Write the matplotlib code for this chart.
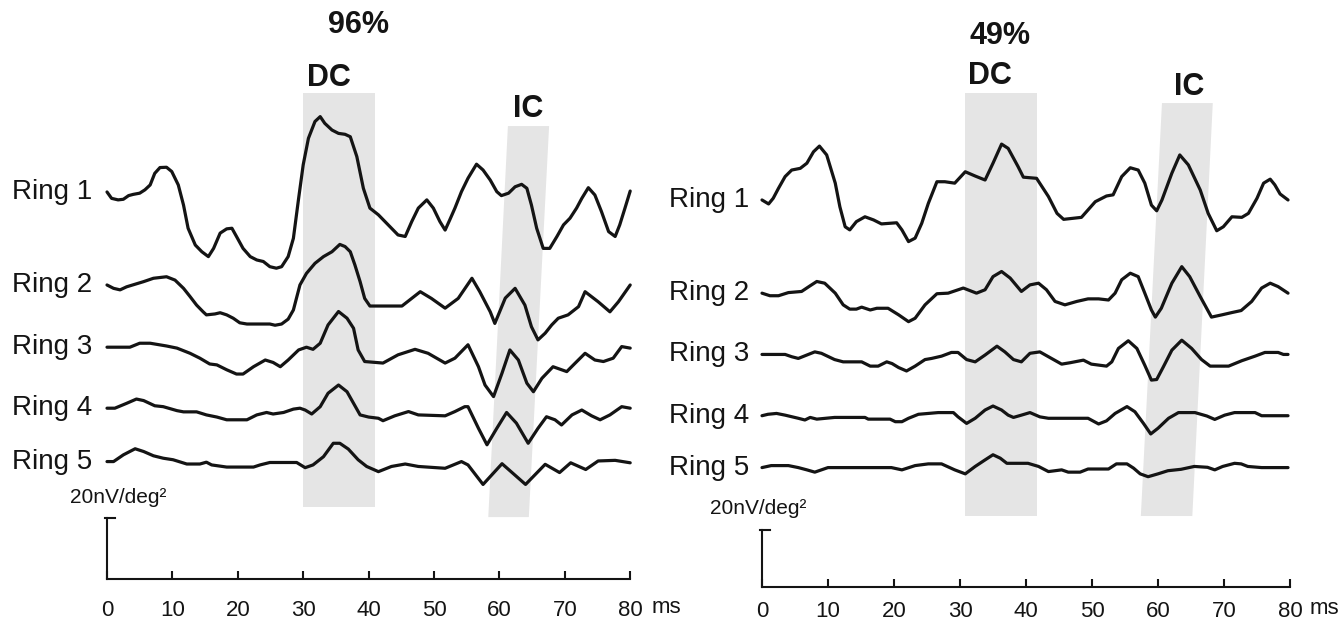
"""Multifocal ERG ring responses, two conditions (96% and 49%), saved as out.png."""
import numpy as np
import matplotlib
matplotlib.use("Agg")
import matplotlib.pyplot as plt
from matplotlib.patches import Polygon

plt.rcParams["font.family"] = ["Liberation Sans", "DejaVu Sans"]

# traces: (time ms, amplitude nV/deg^2 relative to the ring's baseline)
L_RING1 = [(0, 0), (0.7, -2.1), (1.7, -2.6), (2.5, -2.4), (3.3, -1.2), (4.0, -0.8), (5.0, -0.4),
           (5.8, 0.7), (6.6, 2.3), (7.3, 6.1), (8.1, 8.0), (9.1, 8.1), (9.9, 6.7), (10.9, 2.3),
           (11.7, -4.3), (12.4, -11.9), (13.5, -17.4), (14.5, -19.6), (15.5, -21.2), (16.3, -18.5),
           (17.3, -13.5), (18.3, -12.1), (19.1, -11.9), (19.8, -14.6), (20.8, -18.5), (21.9, -21.2),
           (22.9, -22.3), (23.9, -22.8), (24.9, -24.5), (25.9, -25.0), (26.7, -24.5), (27.7, -21.2),
           (28.5, -15.2), (29.3, -2.1), (30.0, 8.9), (30.8, 17.6), (31.8, 23.1), (32.6, 24.7),
           (33.3, 22.5), (34.4, 20.3), (35.4, 19.2), (36.4, 18.9), (37.2, 18.1), (38.2, 11.6),
           (39.2, 1.2), (40.2, -5.3), (41.5, -7.5), (42.5, -9.7), (43.5, -11.9), (44.5, -14.1),
           (45.6, -14.6), (46.6, -9.7), (47.6, -5.3), (48.9, -2.6), (49.9, -5.3), (50.9, -9.7),
           (51.7, -12.5), (52.4, -9.2), (53.2, -5.3), (54.2, 0.1), (55.2, 4.5), (56.5, 9.1),
           (57.5, 7.2), (58.6, 3.9), (59.6, 0.1), (60.3, -1.2), (61.4, -0.4), (62.4, 1.7),
           (63.4, 2.5), (64.2, 1.2), (64.9, -4.3), (65.7, -11.9), (66.7, -18.5), (67.7, -18.5),
           (68.8, -14.6), (69.8, -10.8), (70.8, -8.6), (71.8, -5.3), (72.6, -2.1), (73.6, 1.4),
           (74.6, -1.0), (75.6, -6.4), (76.7, -13.0), (77.7, -14.6), (78.4, -10.8), (79.2, -5.3),
           (80, 0.3)]
L_RING2 = [(0, 0), (1.0, -1.1), (2.0, -1.6), (3.0, -0.6), (5.6, 1.1), (7.1, 2.2), (9.1, 2.7),
           (10.4, 1.6), (11.7, -1.1), (12.7, -3.8), (13.7, -6.6), (14.7, -8.8), (15.2, -9.8),
           (16.5, -9.5), (17.3, -9.1), (18.3, -9.8), (19.3, -10.9), (20.3, -12.4), (21.4, -12.8),
           (24.9, -12.8), (25.7, -13.2), (26.7, -12.8), (27.7, -11.2), (28.5, -8.2), (29.5, 0),
           (30.5, 3.8), (31.8, 7.1), (33.1, 9.3), (34.4, 10.9), (35.6, 13.3), (36.4, 12.6),
           (37.2, 10.9), (37.9, 6.6), (38.7, 1.1), (39.4, -4.4), (40.2, -6.9), (45.1, -6.9),
           (47.9, -2.2), (49.6, -4.4), (51.7, -7.6), (53.7, -4.4), (55.8, 2.2), (57.0, -2.2),
           (58.6, -8.8), (59.3, -12.6), (60.9, -4.3), (62.4, -1.1), (63.9, -6.6), (64.9, -13.7),
           (65.9, -18.0), (67.0, -15.8), (68.0, -13.1), (69.0, -10.9), (70.5, -9.8), (72.1, -7.1),
           (73.1, -2.2), (75.1, -5.5), (76.9, -8.8), (78.2, -5.5), (80, 0)]
L_RING3 = [(0, -0.1), (3.5, -0.1), (5.0, 1.2), (6.6, 1.2), (9.1, 0.3), (10.7, -0.4), (12.7, -2.1),
           (14.2, -3.7), (15.7, -5.6), (16.8, -5.9), (18.3, -7.5), (19.8, -8.9), (20.8, -8.9),
           (22.4, -6.5), (24.2, -4.3), (25.4, -5.1), (26.5, -6.5), (27.7, -4.3), (29.3, -1.0),
           (30.5, -0.1), (31.5, -0.8), (32.6, 1.2), (33.8, 7.2), (35.4, 11.6), (36.7, 9.4),
           (37.7, 6.1), (38.4, -1.0), (39.4, -4.8), (42.2, -5.3), (44.5, -2.6), (47.1, -0.8),
           (49.1, -2.1), (51.7, -5.3), (53.2, -3.7), (55.2, 0.7), (56.8, -6.5), (57.8, -12.5),
           (59.1, -16.3), (60.4, -8.6), (61.6, -1.0), (62.9, -4.3), (64.2, -11.9), (65.2, -14.7),
           (66.5, -10.3), (68.2, -6.5), (70.3, -8.1), (71.6, -5.3), (73.1, -2.1), (74.6, -4.3),
           (75.9, -4.8), (77.4, -3.7), (78.7, 0.1), (80, -0.4)]
L_RING4 = [(0, -0.1), (1.2, -0.1), (3.0, 1.5), (4.5, 2.9), (5.6, 2.4), (7.3, 0.7), (8.6, 0.4),
           (10.7, -0.9), (11.7, -1.3), (13.7, -1.3), (15.2, -2.3), (16.8, -3.0), (18.3, -3.9),
           (21.4, -3.9), (22.9, -2.3), (24.4, -1.5), (25.4, -2.0), (27.0, -1.5), (28.5, -0.4),
           (29.5, -0.1), (30.3, -0.7), (31.3, -2.0), (32.6, 0.4), (33.8, 4.8), (35.4, 7.5),
           (36.7, 5.3), (37.7, 1.5), (38.7, -2.3), (40.0, -3.0), (41.5, -3.4), (42.2, -4.2),
           (44.0, -2.6), (46.1, -1.2), (47.6, -2.3), (51.7, -2.6), (53.2, -1.2), (54.7, 0.4),
           (55.2, 0.4), (56.8, -6.7), (58.1, -12.1), (59.6, -6.7), (61.1, -1.5), (62.6, -5.0),
           (64.4, -11.6), (65.9, -6.7), (67.2, -2.9), (68.5, -3.9), (69.5, -5.6), (71.1, -2.3),
           (72.6, -0.7), (74.1, -2.6), (75.4, -3.9), (76.9, -2.3), (78.7, 0.4), (80, -0.1)]
L_RING5 = [(0, 0.1), (1.0, 0.1), (2.5, 2.3), (4.3, 4.3), (5.6, 3.4), (7.1, 2.0), (8.6, 1.2),
           (10.1, 0.7), (12.2, -0.7), (14.2, -0.7), (15.2, -0.1), (16.0, -1.0), (18.3, -1.7),
           (22.4, -1.7), (23.4, -1.0), (24.9, -0.2), (29.0, -0.2), (30.3, -1.9), (31.5, -1.0),
           (33.1, 1.7), (34.6, 6.1), (35.6, 6.1), (36.9, 4.2), (38.4, 0.7), (39.7, -1.5),
           (41.5, -3.2), (43.5, -1.5), (45.6, -0.7), (47.6, -1.5), (51.7, -2.1), (54.2, 0.1),
           (55.2, -1.0), (57.5, -7.4), (60.4, -0.6), (64.0, -7.4), (67.0, -0.8), (69.2, -3.5),
           (70.9, -0.3), (73.2, -2.5), (75.1, 0.3), (77.7, 0.5), (80, -0.3)]

R_RING1 = [(0, 0), (1.0, -1.4), (1.7, 0.6), (2.5, 4.1), (3.5, 8.2), (4.5, 10.5), (5.8, 11.1),
           (6.8, 12.9), (7.8, 16.9), (8.7, 18.9), (9.8, 15.8), (11.1, 5.9), (11.8, -2.4),
           (12.6, -9.4), (13.3, -10.5), (14.3, -7.6), (15.6, -5.9), (16.9, -7.0), (18.1, -8.4),
           (20.4, -8.0), (21.2, -10.5), (22.2, -14.6), (23.2, -13.4), (24.2, -8.2), (25.2, -1.2),
           (26.5, 6.4), (27.7, 6.4), (29.2, 5.9), (30.8, 9.9), (32.3, 8.4), (33.8, 7.0),
           (35.0, 12.9), (36.3, 19.6), (37.3, 18.1), (38.8, 11.7), (39.6, 8.0), (41.6, 7.6),
           (43.4, 1.2), (44.7, -4.7), (45.7, -6.8), (48.4, -6.1), (50.5, -0.6), (52.2, 1.4),
           (53.2, 1.8), (54.5, 8.2), (55.8, 11.3), (57.0, 10.5), (58.0, 5.9), (59.0, -1.8),
           (59.8, -3.8), (60.6, 0), (62.1, 9.4), (63.3, 15.8), (64.6, 12.3), (66.4, 3.5),
           (67.6, -4.7), (68.9, -10.8), (69.9, -9.4), (71.2, -5.9), (72.7, -6.1), (73.7, -4.7),
           (75.0, 0.6), (76.0, 5.9), (77.0, 7.3), (77.7, 5.3), (78.5, 2.1), (79.7, 0)]
R_RING2 = [(0, 0), (1.2, -0.9), (2.5, -0.9), (4.0, 0.2), (6.0, 0.6), (7.3, 2.6), (8.3, 4.1),
           (9.5, 3.5), (11.1, 0), (12.3, -4.1), (13.3, -5.6), (14.3, -5.6), (15.1, -4.9),
           (16.4, -5.9), (17.4, -5.3), (19.1, -5.3), (20.7, -7.6), (22.2, -10.0), (23.2, -8.8),
           (24.7, -4.1), (26.5, -0.2), (28.2, 0), (30.5, 1.8), (32.5, 0), (33.8, 1.2), (35.0, 5.8),
           (36.3, 7.6), (37.6, 5.3), (39.3, 0.6), (40.6, 2.9), (41.9, 3.5), (43.1, 1.2),
           (44.4, -2.9), (45.9, -4.1), (47.7, -2.9), (49.4, -2.0), (51.0, -2.0), (52.5, -2.4),
           (53.5, 0), (54.5, 4.7), (55.8, 7.0), (57.0, 5.8), (58.0, 0), (59.0, -5.9), (59.6, -8.4),
           (60.5, -5.3), (62.1, 3.5), (63.6, 9.3), (64.8, 5.8), (66.4, -1.2), (68.1, -8.4),
           (69.7, -7.6), (71.2, -6.8), (72.6, -6.1), (74.2, -2.9), (75.7, 1.8), (77.0, 3.5),
           (78.2, 2.3), (79.7, 0)]
R_RING3 = [(0, 0), (3.5, 0), (4.5, -0.8), (5.5, -1.4), (6.8, -0.2), (8.0, 0.9), (9.0, 0.4),
           (11.0, -1.8), (12.3, -2.6), (15.1, -2.6), (16.4, -4.1), (17.6, -4.1), (18.9, -2.6),
           (19.7, -3.2), (20.7, -4.6), (21.9, -5.8), (23.2, -4.1), (24.7, -1.8), (25.7, -1.4),
           (27.2, -0.6), (28.7, 0.7), (29.7, 0.7), (31.0, -1.8), (32.3, -2.6), (33.8, -0.2),
           (35.6, 2.9), (36.8, 0.9), (38.1, -1.8), (39.3, -2.6), (40.6, 0.4), (42.1, 0.9),
           (43.4, -0.8), (45.4, -3.4), (46.7, -2.9), (48.7, -2.0), (49.9, -3.4), (52.2, -4.1),
           (53.0, -2.6), (54.0, 2.1), (55.5, 4.8), (56.8, 2.1), (58.0, -3.8), (59.0, -9.0),
           (59.8, -8.8), (60.8, -4.4), (62.1, 1.5), (63.6, 5.0), (65.1, 2.1), (66.6, -1.8),
           (67.9, -4.1), (70.7, -4.1), (72.7, -2.2), (74.7, -0.6), (76.2, 0.7), (78.2, 0.7),
           (79.0, 0), (79.7, 0)]
R_RING4 = [(0, 0), (0.9, 0.5), (2.2, 0.8), (3.5, 0.2), (5.5, -0.9), (6.5, -1.5), (7.3, -0.6),
           (8.3, -1.2), (11.0, -0.6), (15.6, -0.6), (16.1, -1.2), (19.4, -1.2), (20.2, -2.1),
           (21.2, -2.1), (22.2, -0.9), (23.7, 0.5), (26.7, 1.1), (29.0, 1.1), (29.7, -0.4),
           (31.0, -2.7), (32.3, -0.9), (33.8, 2.0), (35.0, 3.4), (36.3, 2.0), (37.3, 0.2),
           (38.1, -0.6), (39.3, 0.2), (40.6, 1.1), (42.1, -0.4), (43.4, -0.9), (49.4, -0.9),
           (51.0, -2.9), (52.2, -1.8), (53.5, 0.8), (55.3, 3.2), (56.5, 1.4), (57.8, -2.7),
           (58.9, -6.4), (60.0, -4.4), (61.6, -0.9), (63.1, 1.1), (65.6, 1.1), (67.4, -0.1),
           (68.6, -1.3), (70.1, 0.2), (71.6, 1.1), (74.7, 1.1), (75.7, 0), (79.7, 0)]
R_RING5 = [(0, 0), (1.4, 0.7), (4.0, 0.7), (5.5, 0), (6.8, -0.8), (8.0, -1.6), (9.0, -0.8),
           (10.0, 0), (19.6, 0), (21.2, -0.8), (23.2, 0.7), (25.2, 1.3), (27.2, 1.3), (29.2, -0.8),
           (30.8, -2.2), (32.3, 0.4), (33.8, 2.7), (35.0, 4.5), (36.1, 3.3), (37.1, 1.5),
           (40.3, 1.5), (41.9, 0.4), (43.4, -1.4), (44.4, -1.1), (45.4, -0.8), (46.4, -1.6),
           (48.2, -1.6), (49.4, -0.5), (52.5, -0.5), (53.7, 1.3), (55.3, 1.3), (56.3, -0.2),
           (57.3, -2.2), (58.5, -3.2), (60.0, -2.2), (61.5, -1.1), (63.5, -0.6), (65.5, 0.4),
           (67.5, 0.1), (68.6, -0.8), (69.8, 0.4), (71.6, 1.5), (72.6, 1.3), (73.6, 0.4),
           (75.7, 0), (79.7, 0)]

RING_LABELS = ["Ring 1", "Ring 2", "Ring 3", "Ring 4", "Ring 5"]
LEFT_OFFSETS = [126.9, 96.4, 76.1, 56.1, 38.4]      # nV/deg^2 above the time axis
RIGHT_OFFSETS = [135.8, 103.1, 81.6, 60.1, 41.9]
TITLES = ["96%", "49%"]
SCALE_NV = 20
X_TICKS = [0, 10, 20, 30, 40, 50, 60, 70, 80]

# shaded analysis windows (ms); IC window is slanted: (bottom start, bottom end, top start, top end)
LEFT_DC = (30.0, 41.0)
LEFT_IC = (58.3, 64.5, 61.3, 67.6)
RIGHT_DC = (30.8, 41.7)
RIGHT_IC = (57.4, 65.2, 60.6, 68.3)
LEFT_BAND_Y = (23.6, 159.3, 20.3, 148.5)     # DC bottom/top, IC bottom/top
RIGHT_BAND_Y = (24.9, 173.3, 24.9, 169.8)

W, H = 1341, 622
LINE = "#141414"
BAND = "#e5e5e5"


def make_axes(fig, x0, px_ms, y0, px_unit, xlim=(-1, 81), ylim=(-15, 200)):
    rect = [(x0 + xlim[0] * px_ms) / W, (H - y0 + ylim[0] * px_unit) / H,
            (xlim[1] - xlim[0]) * px_ms / W, (ylim[1] - ylim[0]) * px_unit / H]
    ax = fig.add_axes(rect)
    ax.set_xlim(*xlim)
    ax.set_ylim(*ylim)
    ax.patch.set_visible(False)
    for s in ["left", "right", "top"]:
        ax.spines[s].set_visible(False)
    ax.spines["bottom"].set_position(("data", 0))
    ax.spines["bottom"].set_bounds(0, 80)
    ax.spines["bottom"].set_linewidth(1.5)
    ax.spines["bottom"].set_color(LINE)
    ax.set_yticks([])
    ax.set_xticks(X_TICKS)
    return ax


def draw_panel(ax, traces, offsets, dc, ic, band_y, title, title_pos, dc_pos, ic_pos,
               label_x, unit_pos, tick_pad, ms_pos):
    ax.add_patch(Polygon([(dc[0], band_y[0]), (dc[1], band_y[0]), (dc[1], band_y[1]), (dc[0], band_y[1])],
                         closed=True, facecolor=BAND, edgecolor="none", zorder=0))
    ax.add_patch(Polygon([(ic[0], band_y[2]), (ic[1], band_y[2]), (ic[3], band_y[3]), (ic[2], band_y[3])],
                         closed=True, facecolor=BAND, edgecolor="none", zorder=0))
    for pts, off, lab in zip(traces, offsets, RING_LABELS):
        t, v = np.array(pts).T
        ax.plot(t, v + off, color=LINE, lw=2.3, solid_joinstyle="round",
                solid_capstyle="round", clip_on=False, zorder=3)
        ax.text(label_x, off, lab, ha="right", va="center", fontsize=20, color=LINE)

    ax.text(*title_pos, title, ha="center", va="center", fontsize=22, fontweight="bold", color=LINE)
    ax.text(*dc_pos, "DC", ha="center", va="center", fontsize=22, fontweight="bold", color=LINE)
    ax.text(*ic_pos, "IC", ha="center", va="center", fontsize=22, fontweight="bold", color=LINE)

    # 20 nV/deg^2 scale bar on the time origin
    ax.plot([0, 0], [0, SCALE_NV], color=LINE, lw=1.5, clip_on=False)
    ax.plot([-0.3, 1.2], [SCALE_NV, SCALE_NV], color=LINE, lw=1.5, clip_on=False)
    ax.text(*unit_pos, "20nV/deg\u00b2", ha="center", va="center", fontsize=15, color=LINE)

    ax.tick_params(axis="x", direction="in", length=6, width=1.5, colors=LINE,
                   labelsize=16, pad=tick_pad)
    ax.text(*ms_pos, "ms", ha="center", va="center", fontsize=16, color=LINE)


fig = plt.figure(figsize=(W / 100, H / 100), dpi=100)
fig.patch.set_facecolor("white")

ax_l = make_axes(fig, 107, 6.54, 579, 3.05)
draw_panel(ax_l, [L_RING1, L_RING2, L_RING3, L_RING4, L_RING5], LEFT_OFFSETS,
           LEFT_DC, LEFT_IC, LEFT_BAND_Y, TITLES[0],
           (38.4, 181.6), (33.9, 164.3), (64.4, 154.1),
           -2.3, (1.7, 26.6), 15, (85.6, -9.5))

ax_r = make_axes(fig, 762, 6.6, 587, 2.85)
draw_panel(ax_r, [R_RING1, R_RING2, R_RING3, R_RING4, R_RING5], RIGHT_OFFSETS,
           RIGHT_DC, RIGHT_IC, RIGHT_BAND_Y, TITLES[1],
           (36.1, 193.3), (34.5, 179.3), (64.8, 175.4),
           -2.0, (-0.6, 27.7), 10, (85.2, -7.4))

fig.savefig("out.png", dpi=100)
